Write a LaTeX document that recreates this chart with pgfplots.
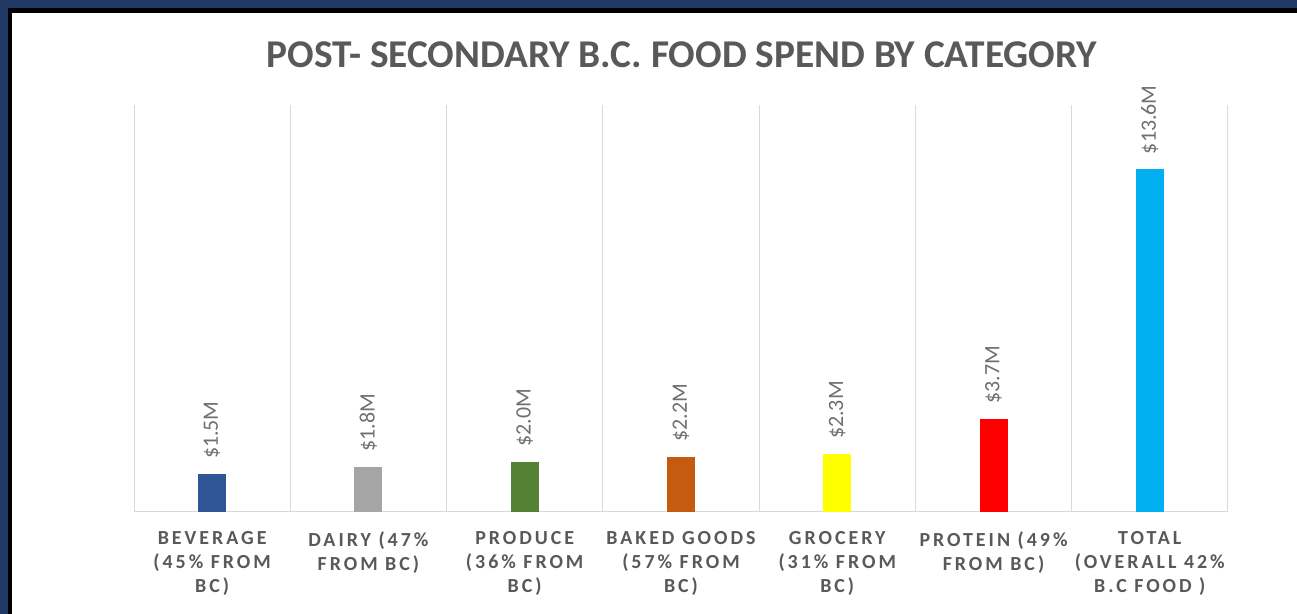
\documentclass[border=0pt]{standalone}
\usepackage{fontspec}
\setmainfont{Carlito}
\newfontfamily\spaced[LetterSpace=15]{Carlito}
\usepackage{pgfplots}
\pgfplotsset{compat=1.18}
\definecolor{frame}{RGB}{31,56,100}
\definecolor{txt}{HTML}{595959}
\definecolor{lbl}{HTML}{6F6F6F}
\definecolor{gridc}{HTML}{D9D9D9}
\definecolor{cbev}{HTML}{2F5597}
\definecolor{cdai}{HTML}{A5A5A5}
\definecolor{cpro}{HTML}{548235}
\definecolor{cbak}{HTML}{C55A11}
\definecolor{cgro}{HTML}{FFFF00}
\definecolor{cprt}{HTML}{FF0000}
\definecolor{ctot}{HTML}{00B0F0}
\begin{document}
\begin{tikzpicture}[x=1bp,y=1bp]
\useasboundingbox (0,0) rectangle (1297,614);
% frame: navy outside, black line, white inside
\fill[frame] (0,0) rectangle (1297,614);
\fill[black] (8,0) rectangle (1297,606);
\fill[white] (12,0) rectangle (1297,601);
\node[anchor=base, text=txt, font=\bfseries\fontsize{39.5}{44}\selectfont] at (682,546)
  {POST- SECONDARY B.C. FOOD SPEND BY CATEGORY};
\begin{axis}[
    at={(134bp,102bp)}, anchor=south west,
    scale only axis, width=1094bp, height=407bp,
    ybar, bar width=28bp, bar shift=0pt,
    xmin=-0.5, xmax=6.5, ymin=0, ymax=16.15,
    clip=false,
    axis x line*=bottom, axis y line=none,
    axis line style={draw=gridc, line width=1bp, -},
    xtick={0,...,6},
    xticklabels={
      {BEVERAGE\\(45\% FROM\\BC)},
      {DAIRY (47\%\\FROM BC)},
      {PRODUCE\\(36\% FROM\\BC)},
      {BAKED GOODS\\(57\% FROM\\BC)},
      {GROCERY\\(31\% FROM\\BC)},
      {PROTEIN (49\%\\FROM BC)},
      {TOTAL\\(OVERALL 42\%\\B.C FOOD )}},
    xticklabel style={align=center, text=txt, yshift=-16bp,
      font=\spaced\bfseries\fontsize{20}{24}\selectfont},
    major tick length=0pt,
    minor xtick={-0.5,0.5,...,6.5},
    minor tick length=0pt,
    xminorgrids=true,
    minor grid style={draw=gridc, line width=1bp},
    ytick=\empty,
    nodes near coords={\$\pgfmathprintnumber[fixed,fixed zerofill,precision=1,assume math mode=true]{\pgfplotspointmeta}M},
    every node near coord/.append style={rotate=90, anchor=west,
      inner xsep=15bp, text=lbl, font=\fontsize{22}{24}\selectfont},
]
\addplot[fill=cbev, draw=none] coordinates {(0,1.5)};
\addplot[fill=cdai, draw=none] coordinates {(1,1.8)};
\addplot[fill=cpro, draw=none] coordinates {(2,2.0)};
\addplot[fill=cbak, draw=none] coordinates {(3,2.2)};
\addplot[fill=cgro, draw=none] coordinates {(4,2.3)};
\addplot[fill=cprt, draw=none] coordinates {(5,3.7)};
\addplot[fill=ctot, draw=none] coordinates {(6,13.6)};
\end{axis}
\end{tikzpicture}
\end{document}
